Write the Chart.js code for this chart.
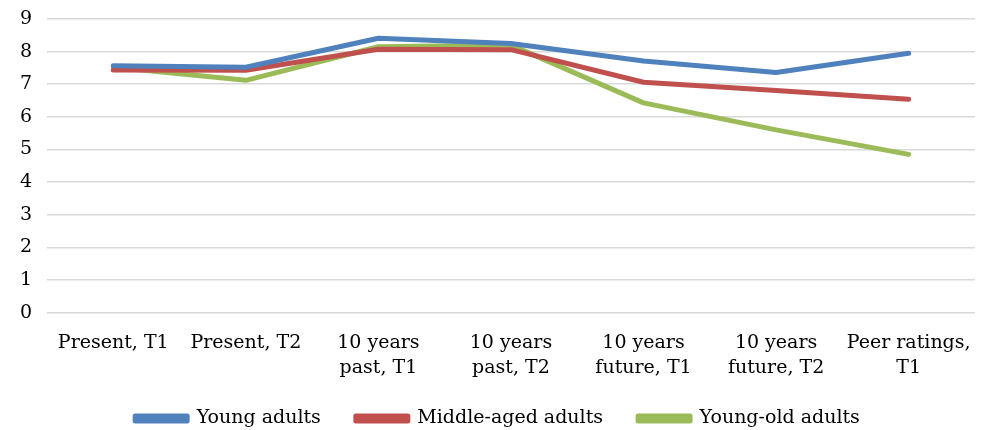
<!DOCTYPE html>
<html>
<head>
    <meta charset="UTF-8">
    <script src="https://cdn.jsdelivr.net/npm/chart.js@4.4.0/dist/chart.umd.min.js"></script>
    <style>
        body { margin: 0; background: #fff; }
        #wrap { width: 981px; height: 430px; }
    </style>
</head>
<body>
    <div id="wrap"><canvas id="myChart"></canvas></div>
    <script>
        const categories = [
            'Present, T1',
            'Present, T2',
            ['10 years', 'past, T1'],
            ['10 years', 'past, T2'],
            ['10 years', 'future, T1'],
            ['10 years', 'future, T2'],
            ['Peer ratings,', 'T1']
        ];
        const youngAdults = [7.57, 7.52, 8.41, 8.25, 7.71, 7.36, 7.95];
        const middleAged = [7.44, 7.43, 8.07, 8.06, 7.06, 6.81, 6.54];
        const youngOld = [7.52, 7.12, 8.15, 8.2, 6.43, 5.6, 4.85];

        const font = { family: 'DejaVu Serif', size: 19, lineHeight: 1.3 };

        const makeSet = (label, data, color) => ({
            label: label,
            data: data,
            borderColor: color,
            backgroundColor: color,
            borderWidth: 5,
            pointRadius: 0,
            tension: 0,
            borderCapStyle: 'round',
            borderJoinStyle: 'round'
        });

        // squeeze the legend box a bit, and stop the x labels being clipped
        const layoutTweaks = {
            id: 'layoutTweaks',
            beforeInit(chart) {
                const fit = chart.legend.fit;
                chart.legend.fit = function () {
                    fit.bind(chart.legend)();
                    this.height -= 8;
                };
            },
            beforeDraw(chart) {
                chart.scales.x._computeLabelArea = () => null;
            }
        };

        let ctx = document.getElementById('myChart').getContext('2d');
        let chart = new Chart(ctx, {
            type: 'line',
            data: {
                labels: categories,
                datasets: [
                    makeSet('Young adults', youngAdults, '#4F81BD'),
                    makeSet('Middle-aged adults', middleAged, '#C0504D'),
                    makeSet('Young-old adults', youngOld, '#9BBB59')
                ]
            },
            options: {
                responsive: true,
                maintainAspectRatio: false,
                animation: false,
                layout: { padding: { top: 19, right: 6, left: 20, bottom: 0 } },
                scales: {
                    x: {
                        offset: true,
                        grid: { display: false },
                        border: { display: false },
                        ticks: { font: font, color: '#000', maxRotation: 0, padding: 10 },
                        afterFit: (scale) => { scale.height -= 16; }
                    },
                    y: {
                        min: 0,
                        max: 9,
                        grid: { color: '#d9d9d9', lineWidth: 1.5, drawTicks: false },
                        border: { display: false },
                        ticks: { stepSize: 1, font: font, color: '#000', padding: 2, crossAlign: 'far' },
                        afterFit: (scale) => { scale.width = 27; }
                    }
                },
                plugins: {
                    tooltip: { enabled: false },
                    legend: {
                        position: 'bottom',
                        labels: {
                            font: font,
                            color: '#000',
                            boxWidth: 52,
                            boxHeight: 5,
                            padding: 35
                        }
                    }
                }
            },
            plugins: [layoutTweaks]
        });
    </script>
</body>
</html>
